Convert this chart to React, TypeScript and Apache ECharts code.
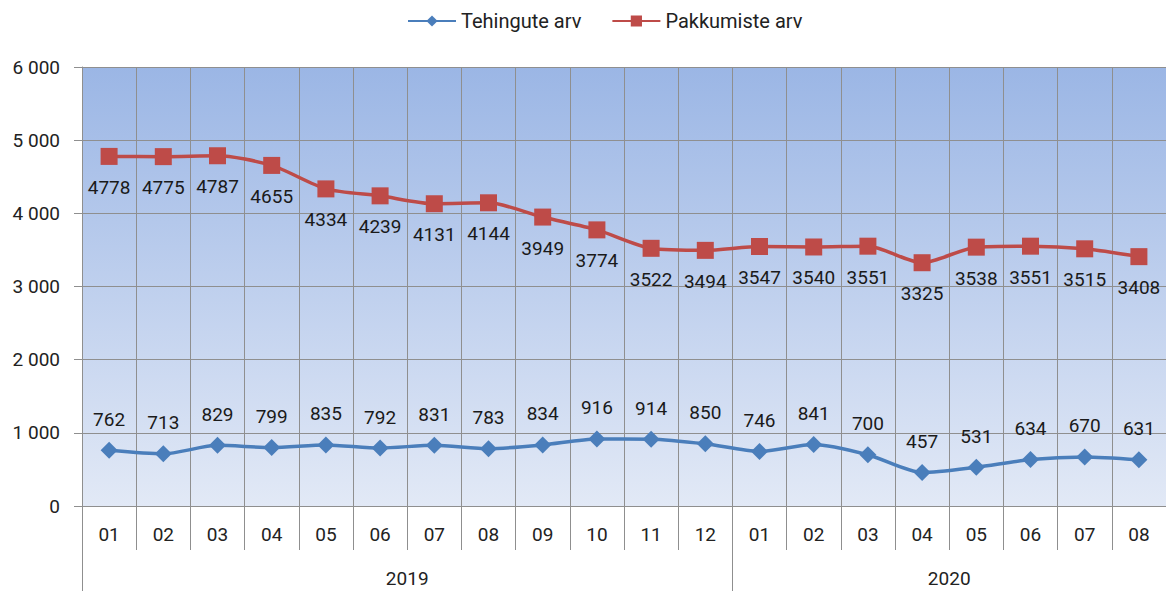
import React, { useEffect, useRef } from "react";
import * as echarts from "echarts";

const months = ["01","02","03","04","05","06","07","08","09","10","11","12","01","02","03","04","05","06","07","08"];
const years = ["2019", "2020"];
const tehingud = [762, 713, 829, 799, 835, 792, 831, 783, 834, 916, 914, 850, 746, 841, 700, 457, 531, 634, 670, 631];
const pakkumised = [4778, 4775, 4787, 4655, 4334, 4239, 4131, 4144, 3949, 3774, 3522, 3494, 3547, 3540, 3551, 3325, 3538, 3551, 3515, 3408];
const yearCounts = [12, 8];

const FONT = "Roboto";
const GRID_COLOR = "#8f8f8f";

export default function App() {
  const ref = useRef<HTMLDivElement>(null);
  useEffect(() => {
    if (!ref.current) return;
    const chart = echarts.init(ref.current, null, { renderer: "svg" });
    const n = months.length;
    const boundaries: number[] = [];
    for (let i = 0; i < n; i++) boundaries.push(i);
    const yearStarts: number[] = [];
    const yearCenters: number[] = [];
    let acc = 0;
    yearCounts.forEach((c) => {
      yearStarts.push(acc);
      yearCenters.push(acc + c / 2);
      acc += c;
    });
    chart.setOption({
      animation: false,
      textStyle: { fontFamily: FONT },
      legend: {
        top: 6,
        left: 402,
        itemWidth: 48,
        itemHeight: 14,
        itemGap: 30,
        textStyle: { fontSize: 20, color: "#222", fontFamily: FONT },
        data: ["Tehingute arv", "Pakkumiste arv"],
      },
      grid: {
        left: 82,
        right: -2,
        top: 67,
        bottom: 85,
        show: true,
        borderWidth: 0,
        backgroundColor: {
          type: "linear",
          x: 0, y: 0, x2: 0, y2: 1,
          colorStops: [
            { offset: 0, color: "#9bb6e5" },
            { offset: 1, color: "#e2e9f6" },
          ],
        },
      },
      xAxis: [
        {
          type: "category",
          data: months,
          boundaryGap: true,
          axisLine: { show: true, lineStyle: { color: GRID_COLOR } },
          axisTick: { show: false },
          splitLine: { show: true, lineStyle: { color: GRID_COLOR, width: 1 } },
          axisLabel: { fontSize: 19, color: "#222", margin: 19, fontFamily: FONT, interval: 0 },
        },
        {
          type: "value",
          min: 0,
          max: n,
          position: "bottom",
          axisLine: { show: false },
          splitLine: { show: false },
          axisTick: { show: true, length: 44, customValues: boundaries, lineStyle: { color: GRID_COLOR } },
          axisLabel: { show: false },
        },
        {
          type: "value",
          min: 0,
          max: n,
          position: "bottom",
          axisLine: { show: false },
          splitLine: { show: false },
          axisTick: { show: true, length: 85, customValues: yearStarts, lineStyle: { color: GRID_COLOR } },
          axisLabel: {
            show: true,
            customValues: yearCenters,
            margin: 63,
            fontSize: 19,
            color: "#222",
            fontFamily: FONT,
            formatter: (v: number) => {
              const idx = yearCenters.indexOf(v);
              return idx >= 0 ? years[idx] : "";
            },
          },
        },
      ],
      yAxis: {
        type: "value",
        min: 0,
        max: 6000,
        interval: 1000,
        axisLine: { show: true, lineStyle: { color: GRID_COLOR } },
        axisTick: { show: true, length: 8, lineStyle: { color: GRID_COLOR } },
        splitLine: { show: true, lineStyle: { color: GRID_COLOR, width: 1 } },
        axisLabel: {
          fontSize: 19,
          color: "#222",
          margin: 22,
          fontFamily: FONT,
          formatter: (v: number) => String(v).replace(/\B(?=(\d{3})+(?!\d))/g, " "),
        },
      },
      series: [
        {
          name: "Tehingute arv",
          type: "line",
          data: tehingud,
          smooth: 0.25,
          symbol: "diamond",
          symbolSize: 17,
          itemStyle: { color: "#4a7ebb" },
          lineStyle: { color: "#4a7ebb", width: 3.5 },
          label: {
            show: true,
            position: "top",
            distance: 13,
            fontSize: 19,
            color: "#1a1a1a",
            fontFamily: FONT,
          },
        },
        {
          name: "Pakkumiste arv",
          type: "line",
          data: pakkumised,
          smooth: 0.25,
          symbol: "rect",
          symbolSize: 17,
          itemStyle: { color: "#be4b48" },
          lineStyle: { color: "#be4b48", width: 3.5 },
          label: {
            show: true,
            position: "bottom",
            distance: 13,
            fontSize: 19,
            color: "#1a1a1a",
            fontFamily: FONT,
          },
        },
      ],
    });
    return () => chart.dispose();
  }, []);
  return <div ref={ref} style={{ position: "absolute", left: 0, top: 0, width: 1166, height: 591 }} />;
}
